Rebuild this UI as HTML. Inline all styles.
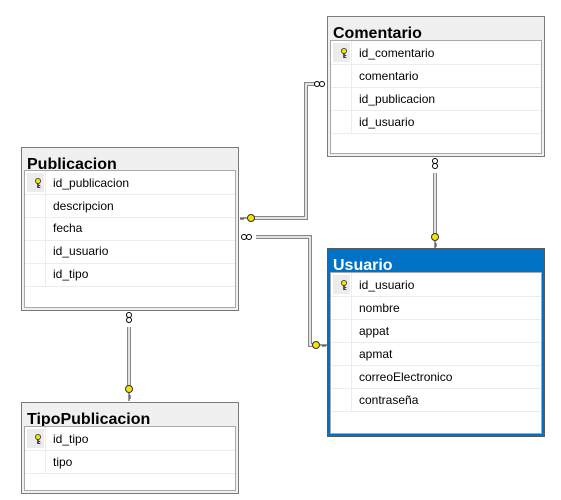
<!DOCTYPE html>
<html><head><meta charset="utf-8"><style>
html,body{margin:0;padding:0;background:#fff;width:561px;height:500px;overflow:hidden}
svg text{font-family:"Liberation Sans",sans-serif}
.t{font-size:16px;font-weight:bold;fill:#000}
.r{font-size:12px;fill:#000}
</style></head><body>
<svg width="561" height="500" viewBox="0 0 561 500" xmlns="http://www.w3.org/2000/svg">
<defs>
<g id="key"><circle cx="0" cy="-2" r="2.6" fill="#f5e400" stroke="#333" stroke-width="0.8"/><rect x="-0.8" y="0" width="1.6" height="5" fill="#333"/><rect x="0.8" y="2" width="1.5" height="1" fill="#333"/><rect x="0.8" y="4" width="1.5" height="1" fill="#333"/></g>
</defs>
<!-- connectors: double lines -->
<g fill="none" stroke-linejoin="miter">
<path d="M250,218 H306 V84 H318" stroke="#888" stroke-width="4"/>
<path d="M250,218 H306 V84 H318" stroke="#fff" stroke-width="1.5"/>
<path d="M256,237 H310 V345 H316" stroke="#888" stroke-width="4"/>
<path d="M256,237 H310 V345 H316" stroke="#fff" stroke-width="1.5"/>
<path d="M435,173 V236" stroke="#888" stroke-width="4"/>
<path d="M435,173 V236" stroke="#fff" stroke-width="1.5"/>
<path d="M129,327 V388" stroke="#888" stroke-width="4"/>
<path d="M129,327 V388" stroke="#fff" stroke-width="1.5"/>
</g>
<!-- infinity symbols -->
<g fill="#fff" stroke="#000" stroke-width="1">
<circle cx="317" cy="84" r="2.5"/><circle cx="322" cy="84" r="2.5"/>
<circle cx="244" cy="237" r="2.5"/><circle cx="249" cy="237" r="2.5"/>
<circle cx="435" cy="161" r="2.5"/><circle cx="435" cy="166" r="2.5"/>
<circle cx="129" cy="315" r="2.5"/><circle cx="129" cy="320" r="2.5"/>
</g>
<!-- key ends -->
<g fill="#f5e400" stroke="#333" stroke-width="1">
<circle cx="251" cy="218" r="3.5"/><path d="M247,218 H240 M243,218 v2 M241,218 v2" fill="none"/>
<circle cx="316" cy="345" r="3.5"/><path d="M320,345 H327 M323,345 v2 M325,345 v2" fill="none"/>
<circle cx="435" cy="237" r="3.5"/><path d="M435,241 V248 M435,244 h2 M435,246 h2" fill="none"/>
<circle cx="129" cy="389" r="3.5"/><path d="M129,393 V401 M129,396 h2 M129,398 h2" fill="none"/>
</g>

<!-- Comentario -->
<rect x="327.5" y="16.5" width="217" height="140" fill="#f0f0f0" stroke="#7a7a7a"/>
<text class="t" x="333" y="38">Comentario</text>
<rect x="330.5" y="40.5" width="211" height="113" fill="#fff" stroke="#a8a8a8"/>
<rect x="333" y="43" width="17" height="19" fill="#ececec"/>
<g stroke="#ececec"><line x1="351.5" y1="41" x2="351.5" y2="133"/>
<line x1="331" y1="64.5" x2="541" y2="64.5"/><line x1="331" y1="87.5" x2="541" y2="87.5"/><line x1="331" y1="110.5" x2="541" y2="110.5"/><line x1="331" y1="133.5" x2="541" y2="133.5"/></g>
<use href="#key" x="344" y="53"/>
<text class="r" x="359" y="57">id_comentario</text>
<text class="r" x="359" y="80">comentario</text>
<text class="r" x="359" y="103">id_publicacion</text>
<text class="r" x="359" y="126">id_usuario</text>

<!-- Publicacion -->
<rect x="21.5" y="147.5" width="217" height="163" fill="#f0f0f0" stroke="#7a7a7a"/>
<text class="t" x="27" y="169">Publicacion</text>
<rect x="24.5" y="170.5" width="211" height="137" fill="#fff" stroke="#a8a8a8"/>
<rect x="27" y="173" width="17" height="19" fill="#ececec"/>
<g stroke="#ececec"><line x1="45.5" y1="171" x2="45.5" y2="286"/>
<line x1="25" y1="194.5" x2="235" y2="194.5"/><line x1="25" y1="217.5" x2="235" y2="217.5"/><line x1="25" y1="240.5" x2="235" y2="240.5"/><line x1="25" y1="263.5" x2="235" y2="263.5"/><line x1="25" y1="286.5" x2="235" y2="286.5"/></g>
<use href="#key" x="38" y="183"/>
<text class="r" x="53" y="187">id_publicacion</text>
<text class="r" x="53" y="210">descripcion</text>
<text class="r" x="53" y="232">fecha</text>
<text class="r" x="53" y="255">id_usuario</text>
<text class="r" x="53" y="278">id_tipo</text>

<!-- Usuario -->
<rect x="327.5" y="248.5" width="217" height="188" fill="#0072c6" stroke="#5a5a5a"/>
<text class="t" x="333" y="270" style="fill:#fff">Usuario</text>
<rect x="330.5" y="272.5" width="211" height="161" fill="#fff" stroke="#a8a8a8"/>
<rect x="333" y="275" width="17" height="19" fill="#ececec"/>
<g stroke="#ececec"><line x1="351.5" y1="273" x2="351.5" y2="411"/>
<line x1="331" y1="296.5" x2="541" y2="296.5"/><line x1="331" y1="319.5" x2="541" y2="319.5"/><line x1="331" y1="342.5" x2="541" y2="342.5"/><line x1="331" y1="365.5" x2="541" y2="365.5"/><line x1="331" y1="388.5" x2="541" y2="388.5"/><line x1="331" y1="411.5" x2="541" y2="411.5"/></g>
<use href="#key" x="344" y="285"/>
<text class="r" x="359" y="289">id_usuario</text>
<text class="r" x="359" y="312">nombre</text>
<text class="r" x="359" y="335">appat</text>
<text class="r" x="359" y="358">apmat</text>
<text class="r" x="359" y="381">correoElectronico</text>
<text class="r" x="359" y="404">contraseña</text>

<!-- TipoPublicacion -->
<rect x="21.5" y="402.5" width="217" height="91" fill="#f0f0f0" stroke="#7a7a7a"/>
<text class="t" x="27" y="424">TipoPublicacion</text>
<rect x="24.5" y="426.5" width="211" height="64" fill="#fff" stroke="#a8a8a8"/>
<rect x="27" y="429" width="17" height="19" fill="#ececec"/>
<g stroke="#ececec"><line x1="45.5" y1="427" x2="45.5" y2="473"/>
<line x1="25" y1="450.5" x2="235" y2="450.5"/><line x1="25" y1="473.5" x2="235" y2="473.5"/></g>
<use href="#key" x="38" y="439"/>
<text class="r" x="53" y="443">id_tipo</text>
<text class="r" x="53" y="466">tipo</text>
</svg>
</body></html>
